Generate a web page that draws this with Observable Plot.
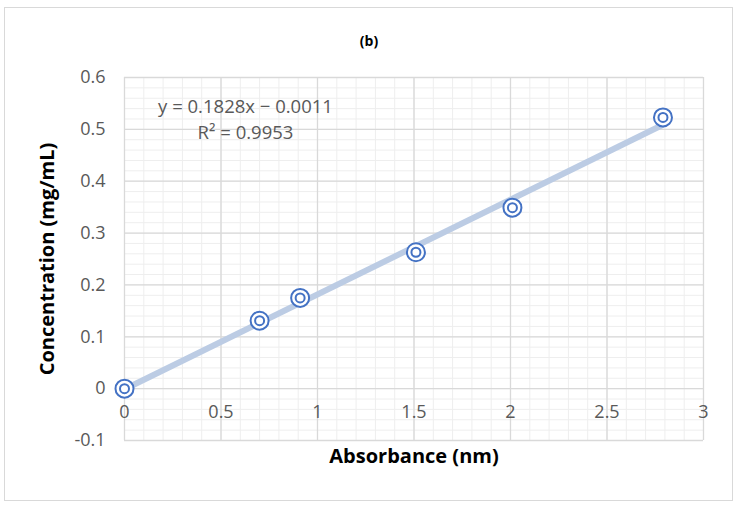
<!DOCTYPE html>
<html><head><meta charset="utf-8">
<script src="https://cdn.jsdelivr.net/npm/d3@7"></script>
<script src="https://cdn.jsdelivr.net/npm/@observablehq/plot@0.6"></script>
<style>
body{margin:0;background:#fff;}
#wrap{position:relative;width:738px;height:508px;font-family:"Open Sans",sans-serif;}
#border{position:absolute;left:4px;top:7px;width:729px;height:494px;border:1.5px solid #d9d9d9;box-sizing:border-box}
#chart{position:absolute;left:0;top:0}
#title{position:absolute;left:0;width:738px;top:31px;text-align:center;font-weight:bold;font-size:14px;color:#000;}
</style></head><body>
<div id="wrap"><div id="border"></div><div id="chart"></div><div id="title">(b)</div></div>
<script>
const absorbance = [0, 0.70, 0.91, 1.51, 2.01, 2.79];
const concentration = [0, 0.131, 0.175, 0.263, 0.349, 0.523];
const xTicks = [0, 0.5, 1, 1.5, 2, 2.5, 3];
const yTicks = [-0.1, 0, 0.1, 0.2, 0.3, 0.4, 0.5, 0.6];
const slope = 0.1828, intercept = -0.0011;
const equationText = "y = 0.1828x − 0.0011\nR² = 0.9953";
const xLabel = "Absorbance (nm)";
const yLabel = "Concentration (mg/mL)";

const points = absorbance.map((a, i) => ({x: a, y: concentration[i]}));
const xMin = d3.min(absorbance), xMax = d3.max(absorbance);
const trend = [xMin, xMax].map(x => ({x, y: slope * x + intercept}));
const minorX = d3.range(0, 3.0001, 0.1);
const minorY = d3.range(-0.1, 0.6001, 0.02);

const gray = "#595959";
const chart = Plot.plot({
  width: 738, height: 508,
  marginLeft: 124, marginRight: 35, marginTop: 77, marginBottom: 68,
  style: {background: "transparent", fontFamily: "'Open Sans', sans-serif"},
  x: {domain: [0, 3], axis: null},
  y: {domain: [-0.1, 0.6], axis: null},
  marks: [
    Plot.ruleX(minorX, {stroke: "#eeeeee", strokeWidth: 1}),
    Plot.ruleY(minorY, {stroke: "#eeeeee", strokeWidth: 1}),
    Plot.ruleX(xTicks, {stroke: "#d9d9d9", strokeWidth: 1.3}),
    Plot.ruleY(yTicks, {stroke: "#d9d9d9", strokeWidth: 1.3}),
    Plot.text(xTicks, {x: d => d, y: 0, dy: 24, text: d => String(d), fill: gray, fontSize: 18}),
    Plot.text(yTicks, {y: d => d, frameAnchor: "left", dx: -19, textAnchor: "end", text: d => String(d), fill: gray, fontSize: 18}),
    Plot.line(trend, {x: "x", y: "y", stroke: "#bccce4", strokeWidth: 6, strokeLinecap: "butt"}),
    Plot.dot(points, {x: "x", y: "y", r: 9, fill: "white", stroke: "#4472c4", strokeWidth: 2}),
    Plot.dot(points, {x: "x", y: "y", r: 4.5, fill: "none", stroke: "#4472c4", strokeWidth: 2}),
    Plot.text([equationText], {frameAnchor: "top-left", dx: 121, dy: 40, lineAnchor: "middle", lineHeight: 1.45, textAnchor: "middle", fill: gray, fontSize: 18.5}),
    Plot.text([xLabel], {frameAnchor: "bottom", dy: 22, textAnchor: "middle", fontWeight: "bold", fontSize: 20, fill: "#000"}),
    Plot.text([yLabel], {frameAnchor: "left", dx: -77, rotate: -90, textAnchor: "middle", fontWeight: "bold", fontSize: 20, fill: "#000"})
  ]
});
document.getElementById("chart").append(chart);
</script>
</body></html>
